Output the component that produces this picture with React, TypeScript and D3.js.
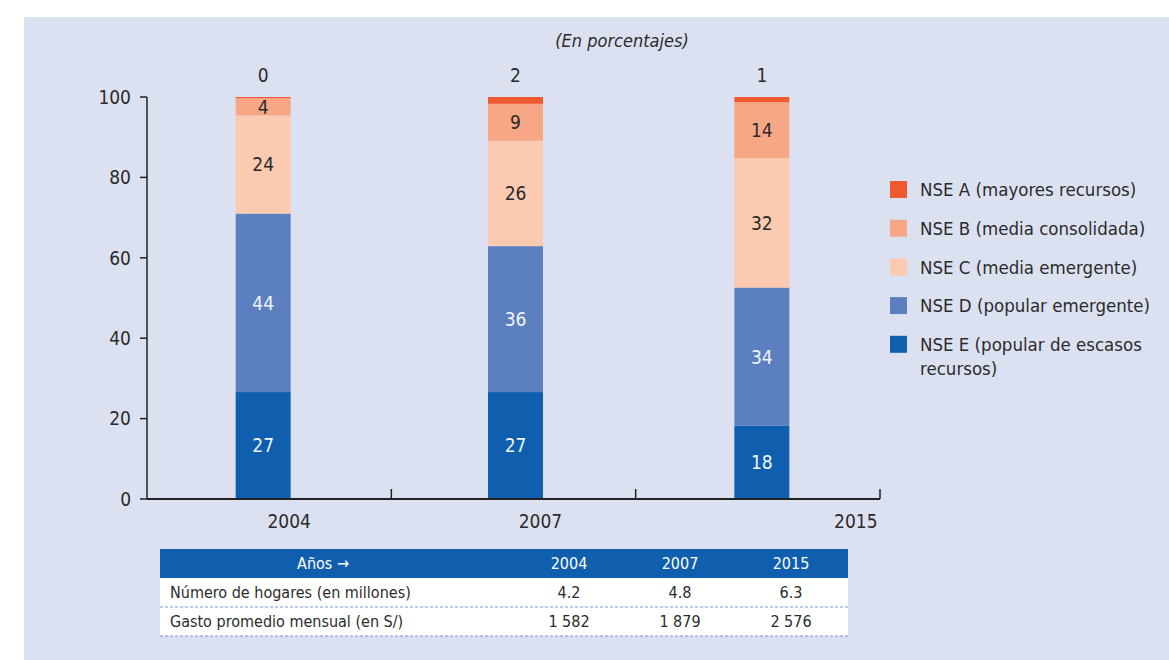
import React from 'react'
import * as d3 from 'd3'

// Data
const years = ['2004', '2007', '2015']
const levels = ['A', 'B', 'C', 'D', 'E']
const legendLabels = [
  ['NSE A (mayores recursos)'],
  ['NSE B (media consolidada)'],
  ['NSE C (media emergente)'],
  ['NSE D (popular emergente)'],
  ['NSE E (popular de escasos', 'recursos)'],
]
const nseE = [26.6, 26.6, 18.2]
const nseD = [44.4, 36.3, 34.4]
const nseC = [24.4, 26.2, 32.2]
const nseB = [4.3, 9.2, 13.9]
const nseA = [0.3, 1.7, 1.3]
const yTicks = [0, 20, 40, 60, 80, 100]

const tableHeader = 'Años  →'
const rowLabels = ['Número de hogares (en millones)', 'Gasto promedio mensual (en S/)']
const households = ['4.2', '4.8', '6.3']
const spending = ['1 582', '1 879', '2 576']

const colors: Record<string, string> = {
  A: '#f15a30',
  B: '#f7a686',
  C: '#fcc9b1',
  D: '#5c7fc0',
  E: '#0f5fae',
}
const labelColors: Record<string, string> = {
  A: '#2a2a2a', B: '#2a2a2a', C: '#2a2a2a', D: '#f2f4fb', E: '#f2f4fb',
}

const FONT = '"Liberation Sans Narrow", "DejaVu Sans Condensed", "Roboto", sans-serif'
const TEXT = '#2b2b2b'

export default function App() {
  const W = 1169
  const H = 660
  const plot = { left: 147, right: 880, top: 97, bottom: 499 }

  const rows = years.map((yr, i) => ({
    year: yr, E: nseE[i], D: nseD[i], C: nseC[i], B: nseB[i], A: nseA[i],
  }))
  const stack = d3.stack<any>().keys(['E', 'D', 'C', 'B', 'A'])(rows)

  const x = d3.scaleBand().domain(years).range([plot.left, plot.right]).padding(0)
  const y = d3.scaleLinear().domain([0, 100]).range([plot.bottom, plot.top])
  const barW = 55
  // bars and year labels sit a little off the band centres in the original
  const barDx = [-6, 2, 4]
  const labelDx = [20, 27, 98]
  const barX = (i: number) => x(years[i])! + x.bandwidth() / 2 + barDx[i]

  const table = { left: 160, right: 848, top: 549, headH: 29, rowH: 29 }
  const tx = d3.scalePoint().domain(years).range([569, 791])

  return (
    <svg width={W} height={H} style={{ position: 'absolute', left: 0, top: 0 }} fontFamily={FONT}>
      <rect x={0} y={0} width={W} height={H} fill="#ffffff" />
      <rect x={24} y={17} width={W - 24} height={H - 17} fill="#dce1f2" />

      <text x={622} y={47} textAnchor="middle" fontSize={18} fontStyle="italic" fill={TEXT}>
        (En porcentajes)
      </text>

      {/* bars */}
      {stack.map(layer => (
        <g key={layer.key}>
          {layer.map((d, i) => {
            const cx = barX(i)
            const y0 = y(d[0])
            const y1 = y(d[1])
            return (
              <rect key={i} x={cx - barW / 2} y={y1} width={barW} height={Math.max(0.8, y0 - y1)}
                fill={colors[layer.key]} />
            )
          })}
        </g>
      ))}

      {/* segment labels */}
      {stack.map(layer => (
        <g key={'l' + layer.key}>
          {layer.map((d, i) => {
            const cx = barX(i)
            const v = d[1] - d[0]
            const cy = layer.key === 'A' ? y(d[1]) - 22 : (y(d[0]) + y(d[1])) / 2
            return (
              <text key={i} x={cx} y={cy} dy="0.36em" textAnchor="middle" fontSize={19}
                fill={labelColors[layer.key]}>
                {Math.round(v)}
              </text>
            )
          })}
        </g>
      ))}

      {/* y axis */}
      <line x1={plot.left} x2={plot.left} y1={plot.top} y2={plot.bottom} stroke="#222" strokeWidth={1.5} />
      {yTicks.map(t => (
        <g key={t}>
          <line x1={plot.left - 7} x2={plot.left} y1={y(t)} y2={y(t)} stroke="#222" strokeWidth={1.5} />
          <text x={plot.left - 16} y={y(t)} dy="0.36em" textAnchor="end" fontSize={19} fill={TEXT}>{t}</text>
        </g>
      ))}

      {/* x axis */}
      <line x1={plot.left} x2={plot.right} y1={plot.bottom} y2={plot.bottom} stroke="#222" strokeWidth={2} />
      {years.map(yr => (
        <line key={yr} x1={x(yr)! + x.bandwidth()} x2={x(yr)! + x.bandwidth()}
          y1={plot.bottom} y2={plot.bottom - 10} stroke="#222" strokeWidth={1.5} />
      ))}
      {years.map((yr, i) => (
        <text key={yr} x={x(yr)! + x.bandwidth() / 2 + labelDx[i]} y={plot.bottom + 22} dy="0.36em"
          textAnchor="middle" fontSize={19} fill={TEXT}>{yr}</text>
      ))}

      {/* legend */}
      {levels.map((k, i) => {
        const ly = 181 + i * 38.7
        return (
          <g key={k}>
            <rect x={890} y={ly} width={17} height={17} fill={colors[k]} />
            {legendLabels[i].map((line, j) => (
              <text key={j} x={920} y={ly + 8.5 + j * 24} dy="0.36em" fontSize={18.5} fill={TEXT}>{line}</text>
            ))}
          </g>
        )
      })}

      {/* table */}
      <rect x={table.left} y={table.top} width={table.right - table.left} height={table.headH} fill="#0f5fae" />
      <rect x={table.left} y={table.top + table.headH} width={table.right - table.left} height={table.rowH * 2} fill="#ffffff" />
      <text x={323} y={table.top + table.headH / 2} dy="0.36em" textAnchor="middle" fontSize={16} fill="#ffffff">
        {tableHeader}
      </text>
      {years.map(yr => (
        <text key={yr} x={tx(yr)} y={table.top + table.headH / 2} dy="0.36em" textAnchor="middle"
          fontSize={16} fill="#ffffff">{yr}</text>
      ))}
      {[households, spending].map((vals, r) => {
        const ry = table.top + table.headH + r * table.rowH
        return (
          <g key={r}>
            <text x={170} y={ry + table.rowH / 2} dy="0.36em" fontSize={16} fill={TEXT}>{rowLabels[r]}</text>
            {vals.map((v, i) => (
              <text key={i} x={tx(years[i])} y={ry + table.rowH / 2} dy="0.36em" textAnchor="middle"
                fontSize={16} fill={TEXT}>{v}</text>
            ))}
            <line x1={table.left} x2={table.right} y1={ry + table.rowH} y2={ry + table.rowH}
              stroke="#7d95d4" strokeWidth={1} strokeDasharray="3,2" />
          </g>
        )
      })}
    </svg>
  )
}
